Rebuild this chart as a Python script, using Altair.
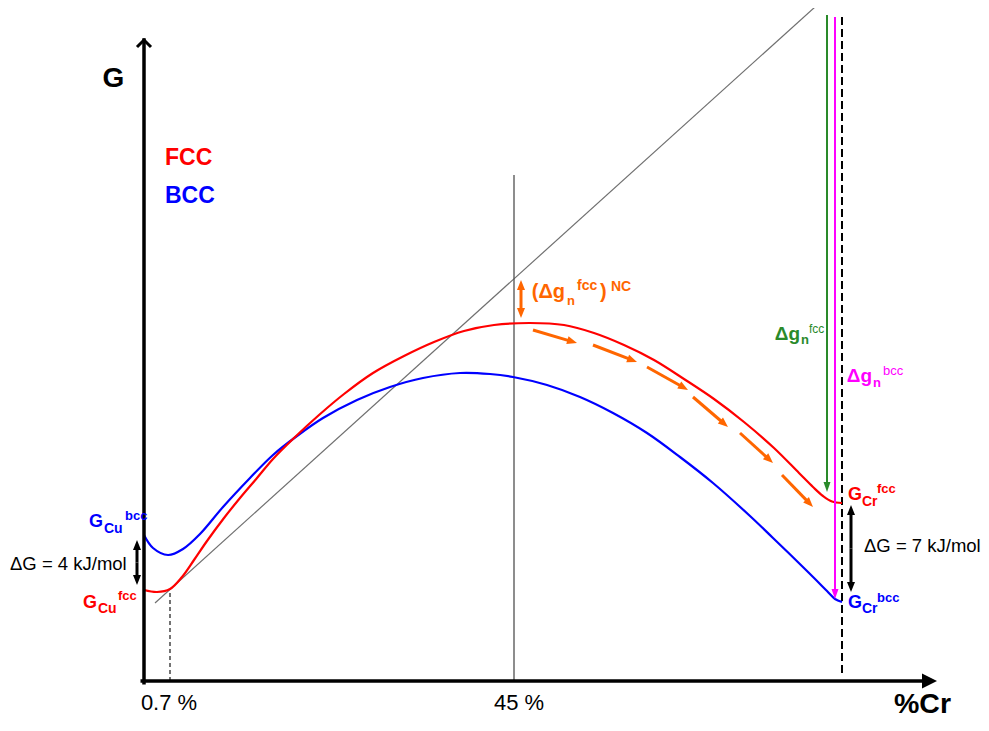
import altair as alt
import numpy as np
import pandas as pd

# ---------------- data (schematic units: x = composition position, G = free energy) ----------------
fcc_x = [0, 13, 26, 38, 50, 63, 80, 96, 113, 129, 150, 175, 200, 229, 260, 290, 320, 350, 386,
         420, 450, 480, 510, 540, 570, 600, 630, 655, 669, 679, 688, 698]
fcc_G = [91, 89, 92, 104, 121, 140, 163, 183, 203, 222, 243, 266, 287, 308, 325, 339, 350, 356, 358,
         356, 348, 336, 321, 302, 282, 259, 233, 208, 194, 185, 179.5, 178]
bcc_x = [0, 9, 24, 39, 56, 79, 106, 129, 153, 179, 213, 246, 279, 316, 346, 369, 403, 436, 469,
         503, 536, 569, 606, 629, 663, 683, 691, 698]
bcc_G = [146, 133, 126, 132, 147, 174, 203, 226, 245, 263, 281, 294, 303, 308, 307, 304, 296, 284, 268,
         248, 224, 198, 165, 143, 110, 90, 82, 79]

tangent_x = [11, 671]
tangent_G = [78, 674]

cu_pos = 26          # 0.7 % composition
mid_pos = 370        # 45 % composition
cr_pos = 698         # pure Cr
x_tick_labels = ["0.7 %", "45 %"]
x_tick_label_x = [25, 375]

# arrows: start -> tip
green_arrow = ([683], [666], [683], [189])
magenta_arrow = ([691], [664], [691], [82])
dG_cu_arrow = ([-7, -7], [118.5, 118.5], [-7, -7], [141, 96])
dG_cr_arrow = ([707, 707], [132.5, 132.5], [707, 707], [176, 89])
nc_arrow = ([377, 377], [382, 382], [377, 377], [401, 363])
path_x0 = [389, 449, 503, 549, 596, 638]
path_G0 = [351, 336, 314, 284, 248, 206]
path_x1 = [433, 493, 544, 584, 629, 669]
path_G1 = [338, 319, 291, 254, 218, 174]

# ---------------- styling ----------------
W, H = 973, 710
X_DOMAIN = [-136, 837]
G_DOMAIN = [-37, 673]
FONT = "Liberation Sans"
RED, BLUE, GREEN, MAGENTA, ORANGE, BLACK = "#ff0000", "#0000ff", "#2a8a2a", "#ff00ff", "#ff6600", "#000000"
HEAD = "M0,0L-0.4,1L0.4,1Z"
NARROW_HEAD = "M0,0L-0.35,1L0.35,1Z"
WIDE_HEAD = "M0,0L-0.5,1L0.5,1Z"
CHEVRON = "M-1,1L0,0L1,1"

xs = alt.Scale(domain=X_DOMAIN, nice=False, zero=False)
ys = alt.Scale(domain=G_DOMAIN, nice=False, zero=False)


def XY():
    return dict(x=alt.X("x:Q", scale=xs, axis=None), y=alt.Y("G:Q", scale=ys, axis=None))


def curve(xv, gv, color):
    df = pd.DataFrame({"x": xv, "G": gv, "o": range(len(xv))})
    return alt.Chart(df).mark_line(color=color, strokeWidth=2.2, interpolate="catmull-rom").encode(
        order="o:Q", **XY())


def rules(x, x2, G, G2, color, width, dash=None, cap="butt"):
    df = pd.DataFrame({"x": x, "x2": x2, "G": G, "G2": G2})
    kw = dict(color=color, strokeWidth=width, strokeCap=cap)
    if dash:
        kw["strokeDash"] = dash
    return alt.Chart(df).mark_rule(**kw).encode(x2="x2:Q", y2="G2:Q", **XY())


def arrows(spec, color, width, head_len, shape=HEAD):
    x0, G0, x1, G1 = [np.asarray(v, float) for v in spec]
    dx, dG = x1 - x0, G1 - G0
    L = np.hypot(dx, dG)
    back = head_len * 0.5
    xe, Ge = x1 - dx / L * back, G1 - dG / L * back
    ang = (np.degrees(np.arctan2(dx, dG)) + 360) % 360
    shaft = rules(x0, xe, G0, Ge, color, width)
    heads = pd.DataFrame({"x": x1, "G": G1, "a": ang})
    hm = alt.Chart(heads).mark_point(shape=shape, filled=True, color=color, opacity=1,
                                     size=(2 * head_len) ** 2).encode(
        angle=alt.Angle("a:Q", scale=None), **XY())
    return shaft + hm


def text(xv, gv, t, color, size, bold=True, align="left"):
    df = pd.DataFrame({"x": xv, "G": gv, "t": t})
    return alt.Chart(df).mark_text(color=color, fontSize=size, font=FONT,
                                   fontWeight="bold" if bold else "normal",
                                   align=align, baseline="alphabetic").encode(text="t:N", **XY())


layers = []
# guide lines
layers.append(rules([tangent_x[0]], [tangent_x[1]], [tangent_G[0]], [tangent_G[1]], "#707070", 1.2))
layers.append(rules([mid_pos], [mid_pos], [0], [506], "#505050", 1.3))
layers.append(rules([cu_pos], [cu_pos], [0], [92], BLACK, 1.1, dash=[4, 3]))
layers.append(rules([cr_pos], [cr_pos], [8], [664], BLACK, 2, dash=[8, 4]))

# curves
layers.append(curve(bcc_x, bcc_G, BLUE))
layers.append(curve(fcc_x, fcc_G, RED))

# axes
layers.append(rules([0], [0], [-1.75], [641], BLACK, 3.5, cap="square"))
layers.append(rules([-1.75], [785], [0], [0], BLACK, 3.5, cap="square"))
layers.append(alt.Chart(pd.DataFrame({"x": [0], "G": [641]})).mark_point(
    shape=CHEVRON, filled=False, color=BLACK, strokeWidth=3, opacity=1, size=196).encode(**XY()))
layers.append(arrows(([700], [0], [793], [0]), BLACK, 0.1, 15, shape=WIDE_HEAD))

# arrows
layers.append(arrows(green_arrow, GREEN, 2, 10, shape=NARROW_HEAD))
layers.append(arrows(magenta_arrow, MAGENTA, 2, 10, shape=NARROW_HEAD))
layers.append(arrows(dG_cu_arrow, BLACK, 3, 10))
layers.append(arrows(dG_cr_arrow, BLACK, 3, 10))
layers.append(arrows(nc_arrow, ORANGE, 3, 10))
layers.append(arrows((path_x0, path_G0, path_x1, path_G1), ORANGE, 3, 10))

# texts
layers.append(text([-30.5], [594], ["G"], BLACK, 28, align="center"))
layers.append(text([778.5], [-32], ["%Cr"], BLACK, 28.5, align="center"))
layers.append(text([21], [516], ["FCC"], RED, 23))
layers.append(text([21], [478], ["BCC"], BLUE, 23))
layers.append(text(x_tick_label_x, [-29, -29], x_tick_labels, BLACK, 22, bold=False, align="center"))
layers.append(text([-134, 720], [111, 129], ["ΔG = 4 kJ/mol", "ΔG = 7 kJ/mol"], BLACK, 18.5, bold=False))

# G_Cu / G_Cr labels
layers.append(text([-41, 718], [154, 73], ["G", "G"], BLUE, 18, align="right"))
layers.append(text([-47, 718], [73, 181], ["G", "G"], RED, 18, align="right"))
layers.append(text([-40, 718], [148, 68], ["Cu", "Cr"], BLUE, 14))
layers.append(text([-46, 718], [68, 175], ["Cu", "Cr"], RED, 14))
layers.append(text([-19, 733], [161, 79], ["bcc", "bcc"], BLUE, 13))
layers.append(text([-26, 733], [81, 188], ["fcc", "fcc"], RED, 13))

# Δg labels
layers.append(text([656], [341], ["Δg"], GREEN, 19, align="right"))
layers.append(text([657], [337], ["n"], GREEN, 13))
layers.append(text([665], [348], ["fcc"], GREEN, 12, bold=False))
layers.append(text([728], [299], ["Δg"], MAGENTA, 19, align="right"))
layers.append(text([729], [294], ["n"], MAGENTA, 13))
layers.append(text([739], [306], ["bcc"], MAGENTA, 13, bold=False))
layers.append(text([421], [383], ["(Δg"], ORANGE, 20, align="right"))
layers.append(text([456], [383], [")"], ORANGE, 20))
layers.append(text([423], [376], ["n"], ORANGE, 13))
layers.append(text([433, 467], [391, 390], ["fcc", "NC"], ORANGE, 14))

chart = alt.layer(*layers).properties(
    width=W, height=H, padding=0,
    autosize=alt.AutoSizeParams(type="none"),
    background="white",
).configure_view(stroke=None)

chart.save("out.html", embed_options={"renderer": "svg", "actions": False})
